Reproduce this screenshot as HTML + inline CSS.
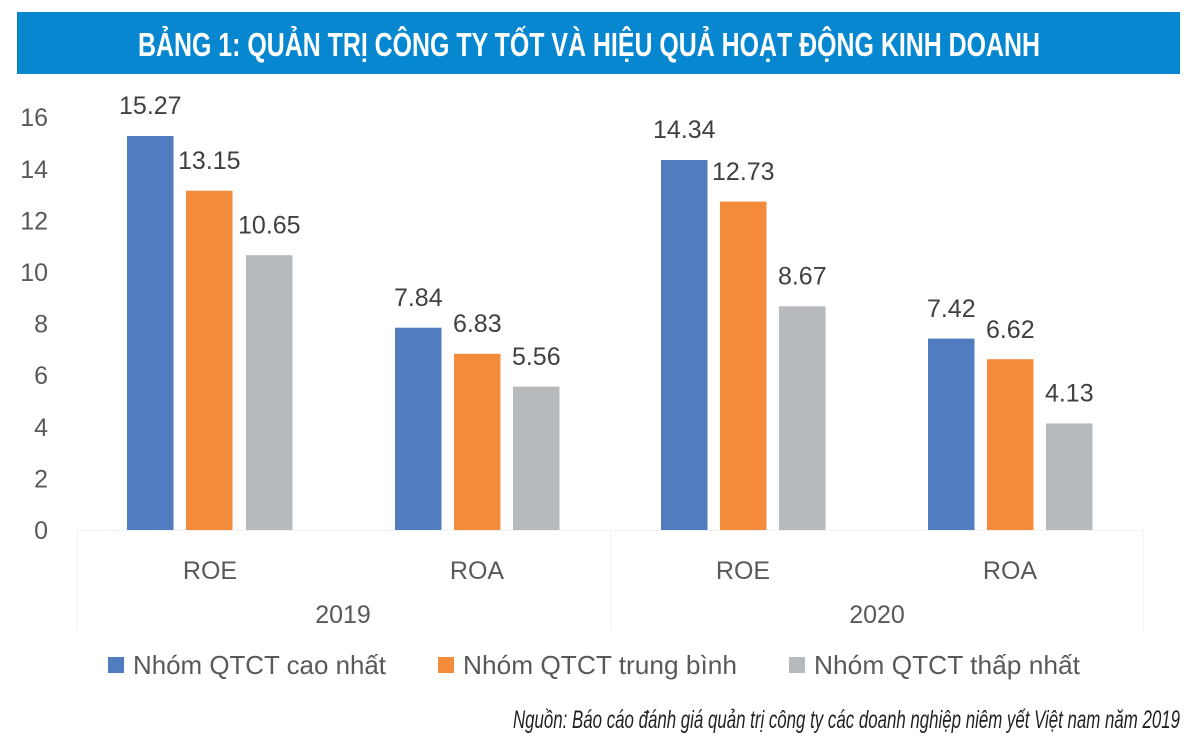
<!DOCTYPE html>
<html>
<head>
<meta charset="utf-8">
<style>
html,body{margin:0;padding:0;background:#fff;}
svg{display:block;}
text{font-family:"Liberation Sans",sans-serif;}
</style>
</head>
<body>
<svg width="1200" height="742" viewBox="0 0 1200 742" xmlns="http://www.w3.org/2000/svg">
<rect x="0" y="0" width="1200" height="742" fill="#ffffff"/>
<!-- title -->
<rect x="17" y="12" width="1163" height="62" fill="#0787d0"/>
<text x="138" y="56" font-size="33" font-weight="bold" fill="#ffffff" textLength="902" lengthAdjust="spacingAndGlyphs">BẢNG 1: QUẢN TRỊ CÔNG TY TỐT VÀ HIỆU QUẢ HOẠT ĐỘNG KINH DOANH</text>

<!-- faint axis lines -->
<line x1="77" y1="530.5" x2="1143" y2="530.5" stroke="#f3f3f3" stroke-width="1"/>
<line x1="77.5" y1="530" x2="77.5" y2="630" stroke="#f3f3f3" stroke-width="1"/>
<line x1="610.5" y1="530" x2="610.5" y2="630" stroke="#f3f3f3" stroke-width="1"/>
<line x1="1143.5" y1="530" x2="1143.5" y2="630" stroke="#f3f3f3" stroke-width="1"/>

<!-- y ticks -->
<g font-size="25" fill="#595959" text-anchor="end">
<text x="48" y="539">0</text>
<text x="48" y="487.4">2</text>
<text x="48" y="435.8">4</text>
<text x="48" y="384.2">6</text>
<text x="48" y="332.6">8</text>
<text x="48" y="281">10</text>
<text x="48" y="229.4">12</text>
<text x="48" y="177.8">14</text>
<text x="48" y="126.2">16</text>
</g>

<!-- bars -->
<g>
<rect x="127" y="136" width="46.5" height="394" fill="#527cc0"/>
<rect x="186" y="190.7" width="46.5" height="339.3" fill="#f48b3b"/>
<rect x="246" y="255.2" width="46.5" height="274.8" fill="#b6babd"/>

<rect x="395" y="327.7" width="46.5" height="202.3" fill="#527cc0"/>
<rect x="454" y="353.8" width="46.5" height="176.2" fill="#f48b3b"/>
<rect x="513" y="386.6" width="46.5" height="143.4" fill="#b6babd"/>

<rect x="661" y="160" width="46.5" height="370" fill="#527cc0"/>
<rect x="720" y="201.6" width="46.5" height="328.4" fill="#f48b3b"/>
<rect x="779" y="306.3" width="46.5" height="223.7" fill="#b6babd"/>

<rect x="928" y="338.6" width="46.5" height="191.4" fill="#527cc0"/>
<rect x="987" y="359.2" width="46.5" height="170.8" fill="#f48b3b"/>
<rect x="1046" y="423.4" width="46.5" height="106.6" fill="#b6babd"/>
</g>

<!-- data labels -->
<g font-size="25" fill="#404040" text-anchor="middle">
<text x="150.3" y="114">15.27</text>
<text x="209.3" y="169">13.15</text>
<text x="269.3" y="233.5">10.65</text>

<text x="418.3" y="306">7.84</text>
<text x="477.3" y="332">6.83</text>
<text x="536.3" y="365">5.56</text>

<text x="684.3" y="138">14.34</text>
<text x="743.3" y="180">12.73</text>
<text x="802.3" y="284.5">8.67</text>

<text x="951.3" y="317">7.42</text>
<text x="1010.3" y="338">6.62</text>
<text x="1069.3" y="401.5">4.13</text>
</g>

<!-- category labels -->
<g font-size="25" fill="#595959" text-anchor="middle">
<text x="210" y="579">ROE</text>
<text x="477" y="579">ROA</text>
<text x="743" y="579">ROE</text>
<text x="1010" y="579">ROA</text>
<text x="343" y="623">2019</text>
<text x="877" y="623">2020</text>
</g>

<!-- legend -->
<rect x="108" y="657" width="16" height="16" fill="#527cc0"/>
<text x="133" y="674" font-size="26" fill="#595959" textLength="253" lengthAdjust="spacingAndGlyphs">Nhóm QTCT cao nhất</text>
<rect x="438" y="657" width="16" height="16" fill="#f48b3b"/>
<text x="463" y="674" font-size="26" fill="#595959" textLength="274" lengthAdjust="spacingAndGlyphs">Nhóm QTCT trung bình</text>
<rect x="789" y="657" width="16" height="16" fill="#b6babd"/>
<text x="814" y="674" font-size="26" fill="#595959" textLength="266" lengthAdjust="spacingAndGlyphs">Nhóm QTCT thấp nhất</text>

<!-- source -->
<text x="513" y="728" font-size="25" font-style="italic" fill="#231f20" textLength="667" lengthAdjust="spacingAndGlyphs">Nguồn: Báo cáo đánh giá quản trị công ty các doanh nghiệp niêm yết Việt nam năm 2019</text>
</svg>
</body>
</html>
